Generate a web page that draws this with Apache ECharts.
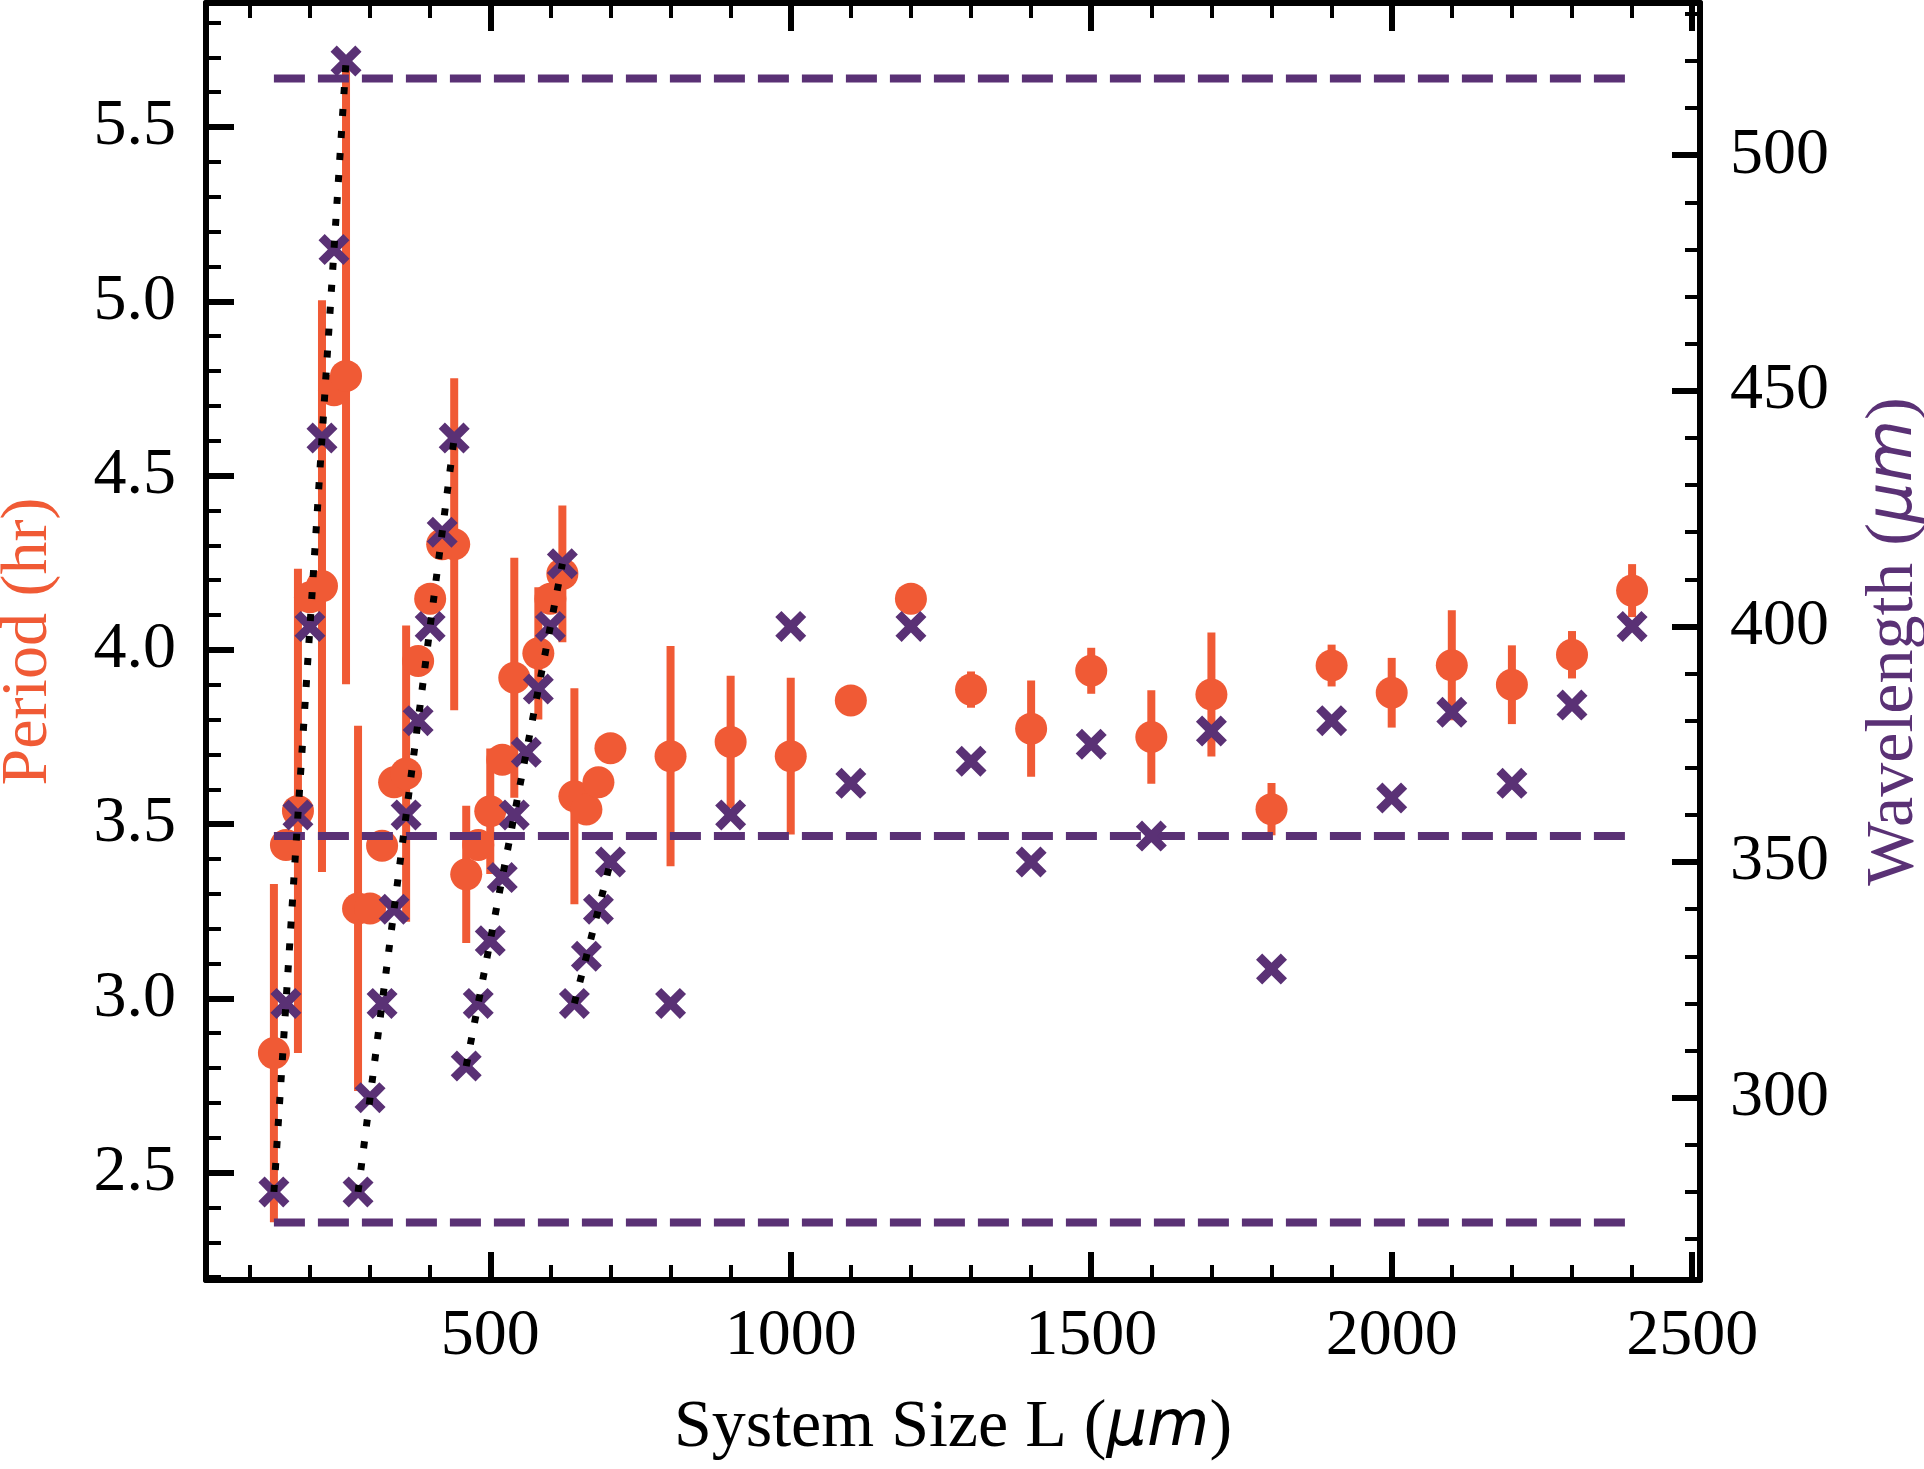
<!DOCTYPE html>
<html>
<head>
<meta charset="utf-8">
<script src="https://cdn.jsdelivr.net/npm/echarts@6/dist/echarts.min.js"></script>
<style>
  html, body { margin: 0; padding: 0; background: #fff; }
  #chart { width: 1924px; height: 1469px; }
</style>
</head>
<body>
<div id="chart"></div>
<script>
// system size L (um)
var sizeL = [140, 160, 180, 200, 220, 240, 260, 280, 300, 320, 340, 360, 380, 400, 420, 440,
  460, 480, 500, 520, 540, 560, 580, 600, 620, 640, 660, 680, 700,
  800, 900, 1000, 1100, 1200, 1300, 1400, 1500, 1600, 1700, 1800, 1900, 2000, 2100, 2200, 2300, 2400];
// period (hr), null = no point
var period = [2.843, 3.44, 3.538, 4.151, 4.183, 4.745, 4.786, 3.258, 3.258, 3.438, 3.62, 3.645, 3.968, 4.147, 4.303, 4.303,
  3.356, 3.44, 3.537, 3.685, 3.92, null, 3.99, 4.147, 4.218, 3.58, 3.542, 3.62, 3.718,
  3.695, 3.736, 3.695, 3.855, 4.147, 3.886, 3.774, 3.94, 3.75, 3.872, 3.543, 3.955, 3.877, 3.956, 3.9, 3.986, 4.17];
var periodErr = [0.485, 0, 0.695, 0, 0.82, 0, 0.885, 0.524, 0, 0, 0, 0.425, 0, 0, 0, 0.476,
  0.197, 0, 0.18, 0, 0.344, 0, 0.19, 0, 0.196, 0.31, 0, 0, 0,
  0.316, 0.19, 0.225, 0, 0, 0.052, 0.138, 0.066, 0.134, 0.178, 0.075, 0.06, 0.1, 0.158, 0.113, 0.068, 0.076];
// wavelength (um)
var wavelength = [280, 320, 360, 400, 440, 480, 520, 280, 300, 320, 340, 360, 380, 400, 420, 440,
  306.7, 320, 333.3, 346.7, 360, 373.3, 386.7, 400, 413.3, 320, 330, 340, 350,
  320, 360, 400, 366.7, 400, 371.4, 350, 375, 355.5, 377.8, 327.3, 380, 363.6, 381.8, 366.7, 383.3, 400];
// dotted guide lines join the crosses inside these L ranges
var dottedGroups = [[140, 260], [280, 440], [460, 620], [640, 700]];
// horizontal dashed reference wavelengths
var refWavelength = [516.3, 355.5, 273.5];
var refRange = [140, 2400];

var ORANGE = '#F05A35';
var PURPLE = '#5A3175';
var FONT = 'Liberation Serif';

var chart = echarts.init(document.getElementById('chart'));

var circles = [], bars = [], crosses = [];
sizeL.forEach(function (L, i) {
  if (period[i] != null) {
    circles.push([L, period[i]]);
    if (periodErr[i] > 0) bars.push([L, period[i], periodErr[i]]);
  }
  crosses.push([L, wavelength[i]]);
});

// thick "x" marker
var xSym = 'path://M0,2 L2,0 L5,3 L8,0 L10,2 L7,5 L10,8 L8,10 L5,7 L2,10 L0,8 L3,5 Z';

var series = [
  {
    type: 'custom',
    z: 1,
    xAxisIndex: 0,
    yAxisIndex: 0,
    data: bars,
    renderItem: function (params, api) {
      var x = api.value(0), y = api.value(1), e = api.value(2);
      var p1 = api.coord([x, y + e]);
      var p2 = api.coord([x, y - e]);
      return {
        type: 'line',
        shape: { x1: p1[0], y1: p1[1], x2: p2[0], y2: p2[1] },
        style: { stroke: ORANGE, lineWidth: 8 }
      };
    }
  },
  {
    type: 'scatter',
    z: 2,
    xAxisIndex: 0,
    yAxisIndex: 0,
    symbol: 'circle',
    symbolSize: 32,
    itemStyle: { color: ORANGE, opacity: 1 },
    data: circles
  },
  {
    type: 'scatter',
    z: 4,
    xAxisIndex: 0,
    yAxisIndex: 1,
    symbol: xSym,
    symbolSize: 31,
    itemStyle: { color: PURPLE, opacity: 1 },
    data: crosses
  }
];

refWavelength.forEach(function (w) {
  series.push({
    type: 'line',
    z: 3,
    xAxisIndex: 0,
    yAxisIndex: 1,
    symbol: 'none',
    lineStyle: { color: PURPLE, width: 8, type: [31, 13], cap: 'butt' },
    data: [[refRange[0], w], [refRange[1], w]]
  });
});

dottedGroups.forEach(function (g) {
  var pts = [];
  sizeL.forEach(function (L, i) {
    if (L >= g[0] && L <= g[1]) pts.push([L, wavelength[i]]);
  });
  series.push({
    type: 'line',
    z: 5,
    xAxisIndex: 0,
    yAxisIndex: 1,
    symbol: 'none',
    lineStyle: { color: '#000', width: 7, type: [7, 15], cap: 'butt' },
    data: pts
  });
});

var tickCommon = {
  axisLine: { show: true, onZero: false, lineStyle: { color: '#000', width: 6 } },
  axisTick: { show: true, inside: true, length: 28, lineStyle: { color: '#000', width: 6 } },
  minorTick: { show: true, splitNumber: 5, length: 15, lineStyle: { color: '#000', width: 4 } },
  splitLine: { show: false },
  minorSplitLine: { show: false }
};

function axis(extra) {
  return Object.assign({}, JSON.parse(JSON.stringify(tickCommon)), extra);
}

var option = {
  animation: false,
  backgroundColor: '#fff',
  grid: { left: 206, right: 224, top: 3, bottom: 189, containLabel: false, outerBoundsMode: 'none' },
  xAxis: [
    axis({
      type: 'value', position: 'bottom', min: 27, max: 2513, splitNumber: 5,
      axisLabel: { show: true, margin: 24, fontFamily: FONT, fontSize: 66, color: '#000',
        showMinLabel: false, showMaxLabel: false,
        formatter: function (v) { return String(v); } },
      name: '{n|System Size L (}{i|μm}{n|)}',
      nameLocation: 'middle',
      nameGap: 114,
      nameTextStyle: {
        rich: {
          n: { fontFamily: FONT, fontSize: 68, color: '#000' },
          i: { fontFamily: 'DejaVu Sans', fontStyle: 'italic', fontSize: 64, color: '#000' }
        }
      }
    }),
    axis({
      type: 'value', position: 'top', min: 27, max: 2513, splitNumber: 5,
      axisLabel: { show: false }
    })
  ],
  yAxis: [
    axis({
      type: 'value', position: 'left', min: 2.192, max: 5.856, splitNumber: 7,
      axisLabel: { show: true, margin: 30, fontFamily: FONT, fontSize: 66, color: '#000',
        showMinLabel: false, showMaxLabel: false,
        formatter: function (v) { return v.toFixed(1); } },
      name: 'Period (hr)',
      nameLocation: 'middle',
      nameRotate: 90,
      nameGap: 144,
      nameTextStyle: { fontFamily: FONT, fontSize: 66, color: ORANGE }
    }),
    axis({
      type: 'value', position: 'right', min: 261.3, max: 532.3, splitNumber: 5,
      axisLabel: { show: true, margin: 30, fontFamily: FONT, fontSize: 66, color: '#000',
        showMinLabel: false, showMaxLabel: false,
        formatter: function (v) { return String(v); } },
      name: '{n|Wavelength (}{i|μm}{n|)}',
      nameLocation: 'middle',
      nameRotate: 90,
      nameGap: 160,
      nameTextStyle: {
        rich: {
          n: { fontFamily: FONT, fontSize: 68, color: PURPLE },
          i: { fontFamily: 'DejaVu Sans', fontStyle: 'italic', fontSize: 64, color: PURPLE }
        }
      }
    })
  ],
  series: series
};

chart.setOption(option);
</script>
</body>
</html>
